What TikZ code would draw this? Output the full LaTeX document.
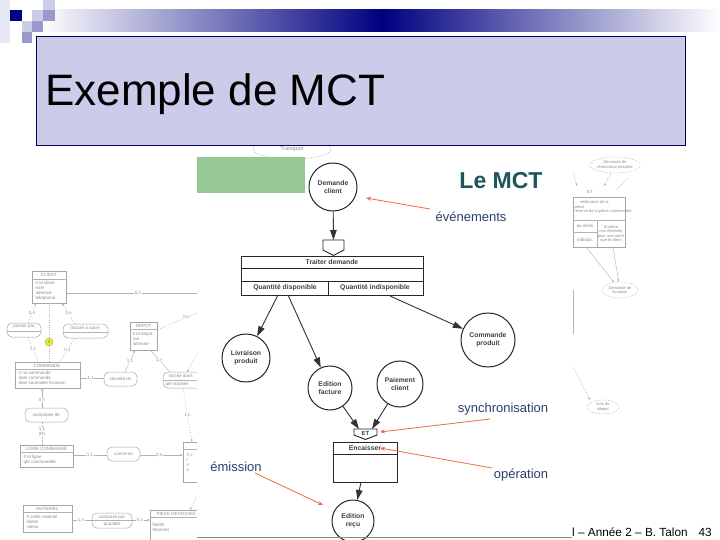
\documentclass[tikz,border=0pt]{standalone}
\usepackage{fontspec}
\setmainfont{Liberation Sans}
\usetikzlibrary{arrows.meta,shapes.geometric}
\definecolor{navy}{RGB}{0,0,128}
\definecolor{titlefill}{RGB}{204,204,234}
\definecolor{titleline}{RGB}{0,0,90}
\definecolor{sqlight}{RGB}{204,204,230}
\definecolor{sqmed}{RGB}{153,153,204}
\definecolor{sqpale}{RGB}{232,232,244}
\definecolor{annoblue}{RGB}{44,62,110}
\definecolor{mctteal}{RGB}{30,85,90}
\definecolor{morange}{RGB}{235,110,60}
\definecolor{mgreen}{RGB}{150,200,150}
\definecolor{keyyel}{RGB}{230,230,60}
\begin{document}
\begin{tikzpicture}[x=1pt,y=-1pt,
  bgline/.style={draw=black!30, line width=0.4pt},
  bgdash/.style={draw=black!30, line width=0.4pt, dash pattern=on 1.5pt off 1.5pt},
  bgtext/.style={text=black!45, font=\fontsize{4.5}{5}\selectfont, inner sep=0.5pt},
  bglab/.style={text=black!45, font=\fontsize{4.5}{5}\selectfont, inner sep=0.5pt, fill=white},
  bgbox/.style={draw=black!35, line width=0.5pt, fill=white},
  bgpill/.style={draw=black!35, line width=0.5pt, rounded corners=5pt, fill=white},
  bgarr/.style={-{Stealth[length=3pt,width=2pt]}},
  mctc/.style={circle, draw=black!85, line width=1pt, inner sep=0pt, align=center,
    font=\fontsize{6.8}{8}\selectfont\bfseries, text=black!75},
  mctt/.style={font=\fontsize{6.8}{8}\selectfont\bfseries, text=black!75, inner sep=0pt},
  mctbox/.style={draw=black!85, line width=1pt},
  marr/.style={draw=black!80, line width=0.9pt, -{Triangle[length=10pt,width=6.5pt]}},
  oarr/.style={draw=morange, line width=0.8pt, -{Stealth[length=5pt,width=4pt]}},
  anno/.style={text=annoblue, font=\fontsize{13}{15}\selectfont, inner sep=0pt}]
\useasboundingbox (0,0) rectangle (720,540);
\fill[white] (0,0) rectangle (720,540);

%% ---------------- background MCD (left) ----------------
% CLIENT
\draw[bgbox] (32,271) rectangle (66,303);
\draw[bgline] (32,279) -- (66,279);
\node[bgtext] (tclient) at (49,275) {CLIENT};
\node[bgtext, anchor=west, align=left] (aclient) at (35,291) {\# id client\\nom\\adresse\\telephone};
\coordinate (clr) at (66,293);
\coordinate (clrend) at (197,293);
\draw[bgline] (clr) -- (clrend) node[bglab, pos=0.55] (l1) {0,n};
% passer par / facture
\draw[bgpill] (7,323) rectangle (41,337);
\draw[bgline] (7,331) -- (41,331);
\node[bgtext] (ppar) at (24,327) {passer par};
\draw[bgpill] (63,324) rectangle (108,338);
\draw[bgline] (63,332) -- (108,332);
\node[bgtext] (pfact) at (85,328) {facturé à autre};
\coordinate (c1) at (36,303); \coordinate (c2) at (28,323);
\draw[bgdash, bgarr] (c2) -- (c1) node[bglab, pos=0.5] (l2) {0,n};
\coordinate (c3) at (62,303); \coordinate (c4) at (75,324);
\draw[bgdash, bgarr] (c4) -- (c3) node[bglab, pos=0.5] (l3) {0,n};
\coordinate (c5) at (28,337); \coordinate (c6) at (38,362);
\draw[bgdash] (c5) -- (c6) node[bglab, pos=0.5] (l4) {1,1};
\coordinate (c7) at (75,338); \coordinate (c8) at (60,362);
\draw[bgdash] (c7) -- (c8) node[bglab, pos=0.5] (l5) {0,1};
% exclusion key
\node[circle, draw=keyyel!80!black, fill=keyyel, minimum size=8pt, inner sep=0pt,
  font=\fontsize{4}{4}\selectfont, text=black!50] (xk) at (49,342) {X};
\coordinate (c9) at (49,303); \coordinate (c10) at (49,362);
\draw[bgline, dotted] (c9) -- (xk) -- (c10);
\coordinate (c11) at (41,334); \coordinate (c12) at (63,334);
\draw[bgline, dotted] (c11) -- (xk) -- (c12);
% COMMANDE
\draw[bgbox] (15,362) rectangle (80,388);
\draw[bgline] (15,369) -- (80,369);
\node[bgtext] (tcmd) at (47,365.5) {COMMANDE};
\node[bgtext, anchor=west, align=left] (acmd) at (18,378) {\# no commande\\date commande\\date souhaitée livraison};
% stocké ds
\draw[bgpill] (104,372) rectangle (137,386);
\node[bgtext] (pstk) at (120.5,379) {stockée ds};
\coordinate (c13) at (80,378); \coordinate (c14) at (104,378);
\draw[bgline] (c13) -- (c14) node[bglab, pos=0.45] (l6) {1,1};
% DEPOT
\draw[bgbox] (130,322) rectangle (157,350);
\draw[bgline] (130,329) -- (157,329);
\node[bgtext] (tdep) at (143.5,325.5) {DEPOT};
\node[bgtext, anchor=west, align=left] (adep) at (132,339) {\# id depot\\rue\\adresse};
\coordinate (c15) at (125,372); \coordinate (c16) at (135,350);
\draw[bgline, bgarr] (c15) -- (c16) node[bglab, pos=0.5] (l7) {1,1};
\coordinate (c17) at (157,330); \coordinate (c18) at (199,312);
\draw[bgdash] (c17) -- (c18) node[bglab, pos=0.7] (l8) {0,n};
% stocké dans
\draw[bgpill] (163,372) rectangle (205,388);
\draw[bgline] (163,380) -- (205,380);
\node[bgtext, anchor=west] (psd) at (168,376) {stocké dans};
\node[bgtext, anchor=west] (psd2) at (165,384) {qté stockée};
\coordinate (c19) at (150,350); \coordinate (c20) at (170,372);
\draw[bgline] (c19) -- (c20) node[bglab, pos=0.45] (l9) {1,n};
\coordinate (c21) at (198,352); \coordinate (c22) at (187,372);
\draw[bgdash, bgarr] (c21) -- (c22);
\coordinate (c23) at (183,388); \coordinate (c24) at (192,442);
\draw[bgdash, bgarr] (c23) -- (c24) node[bglab, pos=0.5] (l10) {1,n};
% composée de
\draw[bgpill] (25,408) rectangle (68,422);
\node[bgtext] (pcomp) at (46.5,415) {composée de};
\coordinate (c25) at (42,408); \coordinate (c26) at (42,388);
\draw[bgline, bgarr] (c25) -- (c26) node[bglab, pos=0.4] (l11) {0,n};
\coordinate (c27) at (42,422); \coordinate (c28) at (42,445);
\draw[bgdash] (c27) -- (c28) node[bglab, pos=0.45, align=center] (l12) {1,1\\(R)};
% LIGNE COMMANDE
\draw[bgbox] (20,445) rectangle (73,467);
\draw[bgline] (20,452) -- (73,452);
\node[bgtext] (tlc) at (46.5,448.5) {LIGNE COMMANDE};
\node[bgtext, anchor=west, align=left] (alc) at (23,459.5) {\# id ligne\\qté commandée};
% concerne
\draw[bgpill] (107,447) rectangle (140,461);
\node[bgtext] (pconc) at (123.5,454) {concerne};
\coordinate (c29) at (73,455); \coordinate (c30) at (107,455);
\draw[bgline] (c29) -- (c30) node[bglab, pos=0.5] (l13) {1,1};
\coordinate (c31) at (140,455); \coordinate (c32) at (183,455);
\draw[bgline, bgarr] (c31) -- (c32) node[bglab, pos=0.45] (l14) {0,n};
% ARTICLE (partly hidden)
\draw[bgbox] (183,442) rectangle (215,482);
\draw[bgline] (183,449) -- (215,449);
\node[bgtext, anchor=west, align=left] (aart) at (186,462) {\# c\\l\\n\\s};
% MATERIEL
\draw[bgbox] (23,505) rectangle (72,532);
\draw[bgline] (23,512) -- (72,512);
\node[bgtext] (tmat) at (47.5,508.5) {MATERIEL};
\node[bgtext, anchor=west, align=left] (amat) at (26,522) {\# code materiel\\libelle\\valeur};
% composé par
\draw[bgpill] (92,513) rectangle (132,528);
\draw[bgline] (92,520.5) -- (132,520.5);
\node[bgtext] (pcp) at (112,517) {composé par};
\node[bgtext] (pcp2) at (112,524.5) {quantité};
\coordinate (c33) at (72,520); \coordinate (c34) at (92,520);
\draw[bgline] (c33) -- (c34) node[bglab, pos=0.45] (l15) {1,n};
\coordinate (c35) at (132,520); \coordinate (c36) at (150,520);
\draw[bgline, bgarr] (c35) -- (c36) node[bglab, pos=0.45] (l16) {0,n};
% PIECE DETACHEE
\draw[bgbox] (150,510) rectangle (215,545);
\draw[bgline] (150,517) -- (215,517);
\node[bgtext, anchor=west] (tpd) at (156,513.5) {PIECE DETACHEE};
\node[bgtext, anchor=west, align=left] (apd) at (152,527) {libellé\\Montant};
\coordinate (c37) at (199,492); \coordinate (c38) at (190,510);
\draw[bgdash, bgarr] (c37) -- (c38);

%% ---------------- background MCT (right) ----------------
\node[ellipse, draw=black!30, dash pattern=on 1.5pt off 1.5pt, line width=0.4pt,
  minimum width=44pt, minimum height=16pt, inner sep=0pt, align=center,
  text=black!45, font=\fontsize{4}{4.5}\selectfont] (rdem) at (615,165) {Demande de\\réservation possible};
\coordinate (r1) at (571,165); \coordinate (r2) at (577,186);
\draw[bgdash, bgarr] (r1) -- (r2);
\coordinate (r3) at (604,186);
\draw[bgdash, bgarr] (rdem) -- (r3);
\coordinate (r4) at (617,189); \coordinate (r5) at (628,178);
\draw[bgdash] (r4) -- (r5);
\node[bgtext] (ret) at (590,192) {ET};
\draw[bgbox] (573,197) rectangle (625,247);
\node[bgtext, anchor=west, align=left, font=\fontsize{4}{4.5}\selectfont] (rbt) at (574,207) {\dots\ vérification de la\\pièce\\réserve de la pièce commandée};
\draw[bgline] (573,220) -- (625,220);
\draw[bgline] (597,220) -- (597,247);
\draw[bgline] (573,232) -- (597,232);
\node[bgtext] (rb1) at (585,226) {au stock};
\node[bgtext] (rb2) at (585,240) {Indispo.};
\node[bgtext, align=center, font=\fontsize{4}{4.5}\selectfont] (rb3) at (611,234) {Si pièce\\non réservée\\pour une autre\\que le client};
\node[ellipse, draw=black!30, dash pattern=on 1.5pt off 1.5pt, line width=0.4pt,
  minimum width=36pt, minimum height=16pt, inner sep=0pt, align=center,
  text=black!45, font=\fontsize{4}{4.5}\selectfont] (rliv) at (620,290) {Demande de\\livraison};
\coordinate (r6) at (586,247); \coordinate (r7) at (613,247);
\draw[bgline, bgarr] (r6) -- (rliv);
\draw[bgline, bgarr] (r7) -- (rliv);
\coordinate (r8) at (573,290); \coordinate (r9) at (573,334);
\draw[bgline] (r8) -- (r9);
\coordinate (r10) at (572,365); \coordinate (r11) at (590,400);
\draw[bgdash, bgarr] (r10) -- (r11);
\node[ellipse, draw=black!30, dash pattern=on 1.5pt off 1.5pt, line width=0.4pt,
  minimum width=32pt, minimum height=14pt, inner sep=0pt, align=center,
  text=black!45, font=\fontsize{4}{4.5}\selectfont] (ravis) at (603,407) {Avis de\\départ};

%% ---------------- MCT picture ----------------
\fill[white] (197,145) rectangle (573,540);
\node[ellipse, draw=black!35, dash pattern=on 1.5pt off 1.5pt, line width=0.4pt,
  minimum width=78pt, minimum height=20pt, inner sep=0pt,
  text=black!45, font=\fontsize{5.5}{6}\selectfont] (transp) at (292,149) {Transport};
\fill[mgreen] (197,157) rectangle (305,193);

\node[font=\fontsize{23}{26}\selectfont\bfseries, text=mctteal, inner sep=0pt] (lemct) at (501,181) {Le MCT};

\node[mctc, minimum size=48pt] (dc) at (333,187) {Demande\\client};
% synchronisation shape
\draw[mctbox, line width=0.9pt] (323,240) -- (344,240) -- (344,250) -- (333.5,255.5) -- (323,250) -- cycle;
\coordinate (synctop) at (333.5,240);
\draw[marr] (dc) -- (synctop);

% Traiter demande
\draw[mctbox] (241,256) rectangle (423,295);
\draw[mctbox] (241,268) -- (423,268);
\draw[mctbox] (241,281) -- (423,281);
\draw[mctbox] (328,281) -- (328,295);
\node[mctt] (td) at (332,262) {Traiter demande};
\node[mctt] (qd) at (285,288) {Quantité disponible};
\node[mctt] (qi) at (375,288) {Quantité indisponible};

\node[mctc, minimum size=48pt] (liv) at (246,358) {Livraison\\produit};
\node[mctc, minimum size=44pt] (ef) at (330,388) {Edition\\facture};
\node[mctc, minimum size=46pt] (pc) at (400,384) {Paiement\\client};
\node[mctc, minimum size=54pt] (cp) at (488,340) {Commande\\produit};

\coordinate (qd1) at (278,295);
\coordinate (qd2) at (288,295);
\coordinate (qi1) at (390,296);
\draw[marr] (qd1) -- (liv);
\draw[marr] (qd2) -- (ef);
\draw[marr] (qi1) -- (cp);

% ET
\draw[mctbox, line width=0.9pt] (354,429) -- (377,429) -- (377,435) -- (365.5,439.5) -- (354,435) -- cycle;
\node[mctt, font=\fontsize{6}{7}\selectfont\bfseries] (et) at (365.5,433.5) {ET};
\coordinate (etin1) at (359,429);
\coordinate (etin2) at (372,429);
\draw[marr] (ef) -- (etin1);
\draw[marr] (pc) -- (etin2);

% Encaisser
\draw[mctbox] (333,442) rectangle (397,482);
\draw[mctbox] (333,454) -- (397,454);
\node[mctt] (enc) at (365,448) {Encaisser};
\node[mctc, minimum size=42pt] (er) at (353,521) {Edition\\reçu};
\coordinate (encb) at (361,482);
\draw[marr] (encb) -- (er);

% annotations
\node[anno] (aev) at (471,217) {événements};
\coordinate (aev1) at (430,209); \coordinate (aev2) at (366,198);
\draw[oarr] (aev1) -- (aev2);
\node[anno] (asyn) at (503,409) {synchronisation};
\coordinate (asyn1) at (490,419); \coordinate (asyn2) at (380,432);
\draw[oarr] (asyn1) -- (asyn2);
\node[anno] (aop) at (521,475) {opération};
\coordinate (aop1) at (492,468); \coordinate (aop2) at (380,448);
\draw[oarr] (aop1) -- (aop2);
\node[anno] (aem) at (236,467) {émission};
\coordinate (aem1) at (255,473); \coordinate (aem2) at (323,505);
\draw[oarr] (aem1) -- (aem2);

%% ---------------- slide frame ----------------
\shade[left color=white, right color=navy] (40,10) rectangle (382,32);
\shade[left color=navy, right color=white] (382,10) rectangle (720,32);
\fill[sqpale] (0,0) rectangle (10,43);
\fill[sqlight] (43,0) rectangle (55,10);
\fill[navy] (10,10) rectangle (22,21);
\fill[sqlight] (32,10) rectangle (43,21);
\fill[sqmed] (43,10) rectangle (55,21);
\fill[sqlight] (22,21) rectangle (32,32);
\fill[sqmed] (32,21) rectangle (43,32);
\fill[sqmed] (22,32) rectangle (32,43);

\draw[fill=titlefill, draw=titleline, line width=0.9pt] (36,36) rectangle (685,145);
\node[anchor=base west, inner sep=0pt, font=\fontsize{44}{50}\selectfont] (title) at (45,106) {Exemple de MCT};

\coordinate (fl1) at (197,537.5); \coordinate (fl2) at (572,537.5);
\draw[black!45, line width=0.8pt] (fl1) -- (fl2);
\node[anchor=base west, inner sep=0pt, font=\fontsize{11.8}{14}\selectfont] (foot) at (572,536) {l – Année 2 – B. Talon};
\node[anchor=base east, inner sep=0pt, font=\fontsize{11.8}{14}\selectfont] (pnum) at (712,536) {43};
\end{tikzpicture}
\end{document}
